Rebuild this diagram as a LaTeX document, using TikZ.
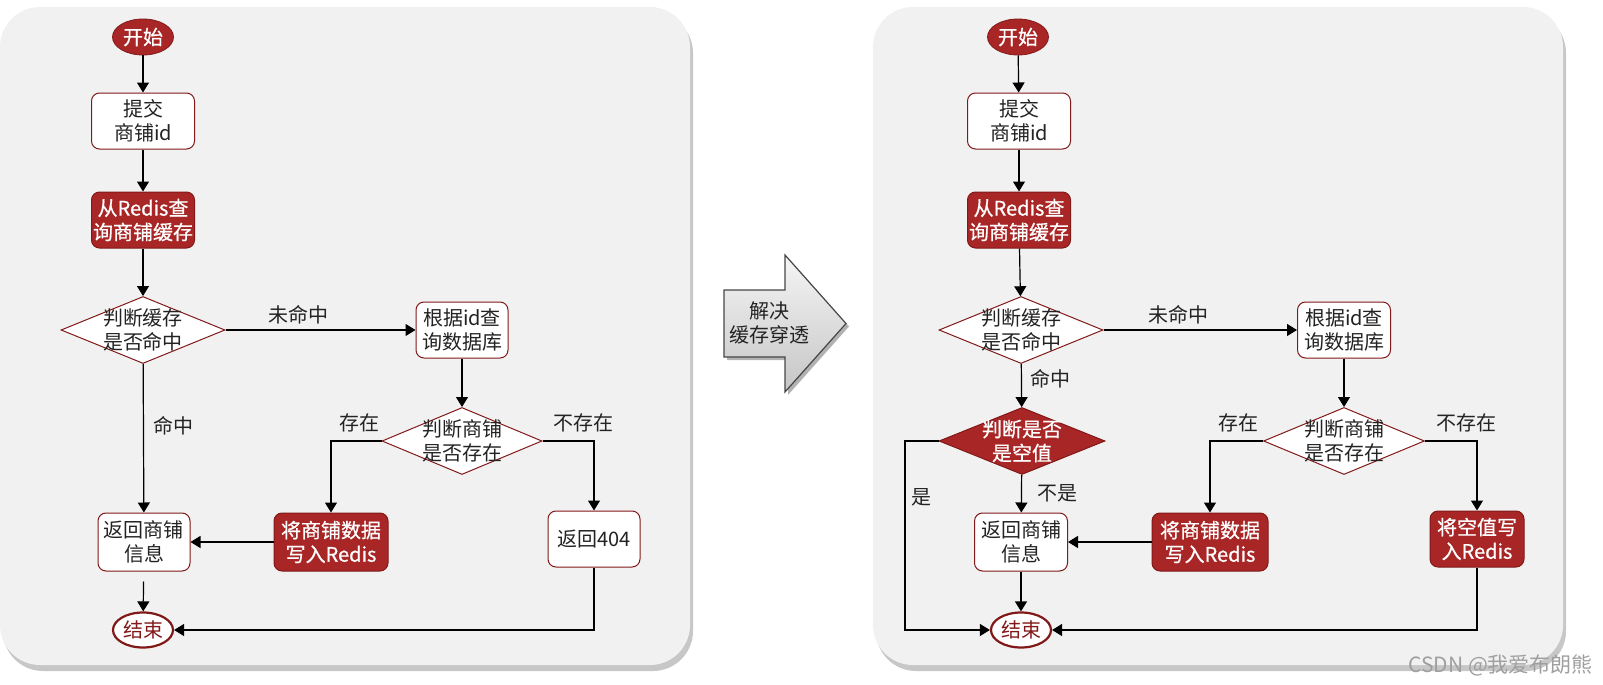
\documentclass[tikz,border=0pt]{standalone}
\usepackage{fontspec}
\setmainfont{Noto Sans CJK SC}
\newfontfamily\heavyfont[FakeBold=0.7]{Noto Sans CJK SC}
\usepackage{tikz}
\usetikzlibrary{shapes.geometric, arrows.meta, positioning, shadows}
\usepackage{xcolor}
\definecolor{flowred}{RGB}{168,38,38}
\definecolor{edgered}{RGB}{130,25,25}
\definecolor{panelgray}{RGB}{242,241,241}
\definecolor{inkgray}{RGB}{35,35,35}

\begin{document}
\begin{tikzpicture}[
  x=0.5pt, y=-0.5pt,
  font=\fontsize{10}{12}\selectfont,
  panel/.style={fill=panelgray, rounded corners=20pt, drop shadow={shadow xshift=1.5pt, shadow yshift=-3pt, opacity=0.22, fill=black}},
  plainbox/.style={rectangle, rounded corners=4pt, draw=edgered, line width=0.5pt, fill=white, text=inkgray, minimum width=51.5pt, minimum height=28pt, inner sep=0pt, align=center},
  redbox/.style={rectangle, rounded corners=4pt, draw=edgered, line width=0.5pt, fill=flowred, text=white, minimum width=51.5pt, minimum height=28pt, inner sep=0pt, align=center, font=\fontsize{10}{12}\heavyfont},
  judge/.style={diamond, draw=edgered, line width=0.5pt, fill=white, text=inkgray, aspect=2.45, inner xsep=-9pt, inner ysep=-7pt, minimum width=82pt, minimum height=33.5pt, align=center},
  redjudge/.style={judge, fill=flowred, text=white, font=\fontsize{10}{12}\heavyfont},
  startnode/.style={ellipse, fill=flowred, draw=edgered, text=white, minimum width=30.5pt, minimum height=18pt, inner sep=0pt, font=\fontsize{10}{12}\heavyfont},
  endnode/.style={ellipse, fill=white, draw=edgered, line width=1.1pt, text=edgered, minimum width=30pt, minimum height=17.5pt, inner sep=0pt},
  lbl/.style={text=inkgray},
  arrow/.style={-{Triangle[length=5pt, width=6pt]}, line width=0.6pt, black}
]
\useasboundingbox (0,0) rectangle (1603,685);

% two panels
\path[panel] (0,7) rectangle (690,665);
\path[panel] (873,7) rectangle (1563,665);

% before
\node[startnode] (startA) at (143,37) {开始};
\node[plainbox] (submitA) at (143,121) {提交\\商铺id};
\node[redbox] (redisA) at (143,220) {从Redis查\\询商铺缓存};
\node[judge] (hitA) at (143,330) {判断缓存\\是否命中};
\node[plainbox, minimum width=46pt] (dbA) at (462,330) {根据id查\\询数据库};
\node[judge, minimum width=80pt] (existA) at (462,441) {判断商铺\\是否存在};
\node[redbox, minimum width=57pt, minimum height=29pt] (writeA) at (331,542) {将商铺数据\\写入Redis};
\node[plainbox, minimum width=46pt] (notfoundA) at (594,539) {返回404};
\node[plainbox, minimum width=46pt, minimum height=29pt] (returnA) at (144,542) {返回商铺\\信息};
\node[endnode] (endA) at (143,630) {结束};

\node[lbl] (missA) at (298,315) {未命中};
\node[lbl] (hitlblA) at (173,426) {命中};
\node[lbl] (yesA) at (359,423) {存在};
\node[lbl] (noA) at (583,423) {不存在};

\draw[arrow] (startA) -- (submitA);
\draw[arrow] (submitA) -- (redisA);
\draw[arrow] (redisA) -- (hitA);
\draw[arrow] (hitA) -- (dbA);
\draw[arrow] (dbA) -- (existA);
\draw[arrow] (existA.west) -| (writeA.north);
\draw[arrow] (existA.east) -| (notfoundA.north);
\draw[arrow] (hitA) -- (returnA);
\draw[arrow] (writeA) -- (returnA);
\draw[arrow, shorten <=5pt] (returnA) -- (endA);
\draw[arrow] (notfoundA.south) |- (endA.east);

% big arrow in the middle
\draw[draw=gray!55!black, line width=0.6pt, top color=gray!8, bottom color=gray!45,
  drop shadow={shadow xshift=1.5pt, shadow yshift=-1.5pt, opacity=0.3, fill=black}]
  (724,290) -- (785,290) -- (785,255) -- (846,323.5) -- (785,392) -- (785,357) -- (724,357) -- cycle;
\node[text=inkgray, align=center] (fix) at (769,323) {解决\\缓存穿透};

% after
\node[startnode] (startB) at (1018,37) {开始};
\node[plainbox] (submitB) at (1019,121) {提交\\商铺id};
\node[redbox] (redisB) at (1019,220) {从Redis查\\询商铺缓存};
\node[judge] (hitB) at (1021,330) {判断缓存\\是否命中};
\node[plainbox, minimum width=46.5pt] (dbB) at (1344,330) {根据id查\\询数据库};
\node[judge, minimum width=80.5pt] (existB) at (1344,441) {判断商铺\\是否存在};
\node[redjudge, minimum width=83pt] (nullcheckB) at (1022,441) {判断是否\\是空值};
\node[redbox, minimum width=58pt, minimum height=29pt] (writeB) at (1210,542) {将商铺数据\\写入Redis};
\node[redbox, minimum width=47pt] (nullB) at (1477,539) {将空值写\\入Redis};
\node[plainbox, minimum width=46.5pt, minimum height=29pt] (returnB) at (1021,542) {返回商铺\\信息};
\node[endnode] (endB) at (1021,630) {结束};
\coordinate (yesturn) at (905,441);

\node[lbl] (missB) at (1178,315) {未命中};
\node[lbl] (hitlblB) at (1050,379) {命中};
\node[lbl] (yesB) at (1238,423) {存在};
\node[lbl] (noB) at (1466,423) {不存在};
\node[lbl] (notnullB) at (1057,493) {不是};
\node[lbl] (isnullB) at (921,497) {是};

\draw[arrow] (startB) -- (submitB);
\draw[arrow] (submitB) -- (redisB);
\draw[arrow] (redisB) -- (hitB);
\draw[arrow] (hitB) -- (dbB);
\draw[arrow] (dbB) -- (existB);
\draw[arrow] (existB.west) -| (writeB.north);
\draw[arrow] (existB.east) -| (nullB.north);
\draw[arrow] (hitB) -- (nullcheckB);
\draw[arrow] (nullcheckB) -- (returnB);
\draw[arrow] (writeB) -- (returnB);
\draw[arrow] (returnB) -- (endB);
\draw[arrow] (nullB.south) |- (endB.east);
\draw[arrow] (nullcheckB.west) -- (yesturn) |- (endB.west);

\node[text=gray!75, font=\fontsize{10.5}{12}\selectfont, anchor=east] (mark) at (1600,665) {CSDN @我爱布朗熊};
\end{tikzpicture}
\end{document}
